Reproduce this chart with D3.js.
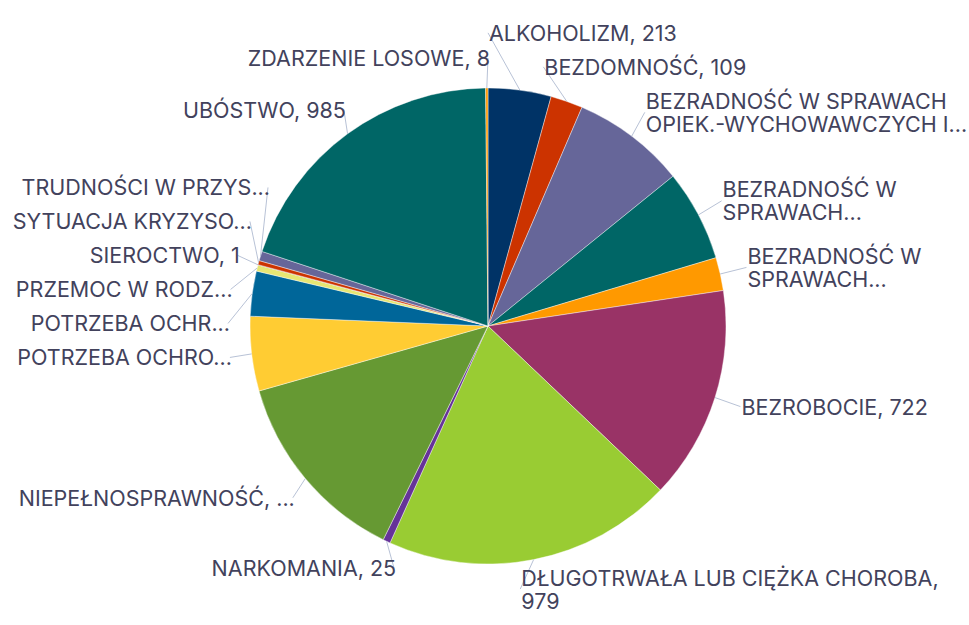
<!DOCTYPE html>
<html>
<head>
<meta charset="utf-8">
<script src="https://cdn.jsdelivr.net/npm/d3@7/dist/d3.min.js"></script>
<style>
  body { margin: 0; background: #fff; }
  .label { font-family: Inter, Lato, sans-serif; font-size: 21.5px; fill: #42425c; }
  .connector { stroke: #b8c2d6; stroke-width: 1; fill: none; }
</style>
</head>
<body>
<div id="pie-chart-area"></div>
<script>
// label texts as they appear on the chart ("|" = line break)
let categories = [
  "ALKOHOLIZM, 213",
  "BEZDOMNOŚĆ, 109",
  "BEZRADNOŚĆ W SPRAWACH|OPIEK.-WYCHOWAWCZYCH I...",
  "BEZRADNOŚĆ W|SPRAWACH...",
  "BEZRADNOŚĆ W|SPRAWACH...",
  "BEZROBOCIE, 722",
  "DŁUGOTRWAŁA LUB CIĘŻKA CHOROBA,|979",
  "NARKOMANIA, 25",
  "NIEPEŁNOSPRAWNOŚĆ, ...",
  "POTRZEBA OCHRO...",
  "POTRZEBA OCHR...",
  "PRZEMOC W RODZ...",
  "SIEROCTWO, 1",
  "SYTUACJA KRYZYSO...",
  "TRUDNOŚCI W PRZYS...",
  "UBÓSTWO, 985",
  "ZDARZENIE LOSOWE, 8"
];

let values = [213, 109, 384, 309, 112, 722, 979, 25, 665, 252, 152, 21, 1, 14, 32, 985, 8];

// palette, repeats after 12 colours
let palette = ["#003366", "#cc3300", "#666699", "#006666", "#ff9900", "#993366",
  "#99cc33", "#663399", "#669933", "#ffcc33", "#006699", "#e6e673"];

let width = 969, height = 625;
let cx = 488, cy = 326, radius = 238;
let labelRadius = radius + 30;            // where labels want to sit
let anchorRadius = {right: 265, left: 260}; // where connectors end
let lineHeight = 23, boxPad = 11;

let svg = d3.select("#pie-chart-area").append("svg")
    .attr("width", width)
    .attr("height", height);

let color = d3.scaleOrdinal()
    .domain(d3.range(values.length))
    .range(palette);

let pie = d3.pie()
    .sort(null)
    .value(d => d);

let arc = d3.arc()
    .innerRadius(0)
    .outerRadius(radius);

let arcs = pie(values);

let g = svg.append("g")
    .attr("transform", "translate(" + cx + "," + cy + ")");

// slices
g.selectAll(".slice")
    .data(arcs)
  .enter().append("path")
    .attr("class", "slice")
    .attr("d", arc)
    .attr("fill", (d, i) => color(i))
    .attr("stroke", "#ffffff")
    .attr("stroke-width", 0.4);

// label layout: natural position on a circle, then push apart on each side
let items = arcs.map((d, i) => {
  let mid = (d.startAngle + d.endAngle) / 2;
  let lines = categories[i].split("|");
  return {
    i: i,
    value: d.value,
    mid: mid,
    lines: lines,
    side: mid < Math.PI ? 1 : -1,
    target: -labelRadius * Math.cos(mid),
    h: lines.length * lineHeight + boxPad
  };
});

// top of a stack so that the given item sits on its target
function topFor(grp, item) {
  let off = 0;
  for (let d of grp.items) {
    if (d === item) break;
    off += d.h;
  }
  return item.target - off - item.h / 2;
}

// stack the labels of one side: stacks are merged while they overlap,
// then each stack is hung on its biggest slice
function spread(list, minY, maxY) {
  list.sort((a, b) => a.target - b.target);
  let groups = list.map(d => ({ items: [d], size: d.h }));

  function mergeOverlaps() {
    for (let k = 1; k < groups.length; k++) {
      let a = groups[k - 1], b = groups[k];
      if (a.top + a.size > b.top) {
        a.items = a.items.concat(b.items);
        a.size += b.size;
        groups.splice(k, 1);
        return true;
      }
    }
    return false;
  }

  function clampTop(grp, top) {
    return Math.max(minY, Math.min(maxY - grp.size, top));
  }

  let again = true;
  while (again) {
    // average placement decides which labels end up together
    groups.forEach(grp => {
      grp.top = clampTop(grp, d3.mean(grp.items, d => topFor(grp, d)));
    });
    again = mergeOverlaps();
    if (!again) {
      groups.forEach(grp => {
        let lead = d3.greatest(grp.items, d => d.value);
        grp.top = clampTop(grp, topFor(grp, lead));
      });
      again = mergeOverlaps();
    }
  }

  groups.forEach(grp => {
    let lead = d3.greatest(grp.items, d => d.value);
    let y = clampTop(grp, topFor(grp, lead));
    grp.items.forEach(d => { d.y = y + d.h / 2; y += d.h; });
  });
}

spread(items.filter(d => d.side > 0), -cy, height - cy);
spread(items.filter(d => d.side < 0), -cy, height - cy);

items.forEach(d => {
  let r = d.side > 0 ? anchorRadius.right : anchorRadius.left;
  let dx = Math.sqrt(Math.max(0, r * r - d.y * d.y));
  d.x = d.side * dx;
});

// connectors
g.selectAll(".connector")
    .data(items)
  .enter().append("line")
    .attr("class", "connector")
    .attr("x1", d => radius * Math.sin(d.mid))
    .attr("y1", d => -radius * Math.cos(d.mid))
    .attr("x2", d => d.x)
    .attr("y2", d => d.y);

// labels
let labelText = g.selectAll(".label")
    .data(items)
  .enter().append("text")
    .attr("class", "label")
    .attr("text-anchor", d => d.side > 0 ? "start" : "end")
    .attr("transform", d => "translate(" + (d.x + (d.side > 0 ? 1 : 2)) + "," + d.y + ")");

labelText.selectAll("tspan")
    .data(d => d.lines.map((t, k) => ({ t: t, k: k, n: d.lines.length })))
  .enter().append("tspan")
    .attr("x", 0)
    .attr("y", d => (d.k - (d.n - 1) / 2) * lineHeight + 8)
    .text(d => d.t);
</script>
</body>
</html>
